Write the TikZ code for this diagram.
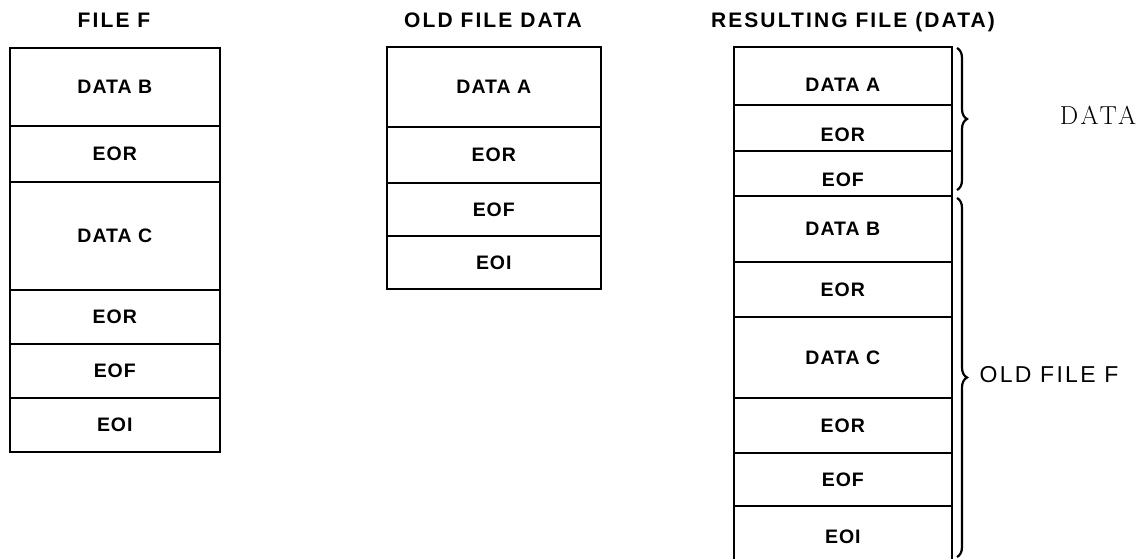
\documentclass[tikz,border=0pt]{standalone}
\usepackage{fontspec}
\usetikzlibrary{decorations.pathreplacing}
\newfontfamily\cellfam[LetterSpace=5]{Liberation Sans}
\newfontfamily\titlefam[LetterSpace=10]{Liberation Sans}
\newfontfamily\labelfam[LetterSpace=10]{Liberation Sans}
\newfontfamily\serifdata[LetterSpace=12]{Latin Modern Roman}
\tikzset{
  cell/.style={draw, line width=1.6pt, rectangle, anchor=north west, inner sep=0pt,
    font=\cellfam\bfseries\fontsize{19.5}{21}\selectfont},
  cellL/.style={cell, minimum width=210pt},
  cellM/.style={cell, minimum width=214pt},
  cellR/.style={cell, minimum width=218pt},
  ctext/.style={inner sep=0pt, font=\cellfam\bfseries\fontsize{19.5}{21}\selectfont},
  title/.style={inner sep=0pt, anchor=base, font=\titlefam\bfseries\fontsize{21}{23}\selectfont},
  bracedec/.style={decorate, decoration={brace, amplitude=10pt}, line width=2.2pt},
}
\begin{document}
\begin{tikzpicture}[x=1pt, y=-1pt]
\clip (0,0) rectangle (1146,559);
\fill[white] (0,0) rectangle (1146,559);
% titles
\node[title] (t1) at (114,28) {FILE F};
\node[title] (t2) at (493,28) {OLD FILE DATA};
\node[title] (t3) at (853,28) {RESULTING FILE (DATA)};
% left column: FILE F
\node[cellL, minimum height=78pt]  (l1) at (9,47)  {DATA B};
\node[cellL, minimum height=56pt]  (l2) at (9,125) {EOR};
\node[cellL, minimum height=108pt] (l3) at (9,181) {DATA C};
\node[cellL, minimum height=54pt]  (l4) at (9,289) {EOR};
\node[cellL, minimum height=54pt]  (l5) at (9,343) {EOF};
\node[cellL, minimum height=54pt]  (l6) at (9,397) {EOI};
% middle column: OLD FILE DATA
\node[cellM, minimum height=80pt] (m1) at (386,46)  {DATA A};
\node[cellM, minimum height=56pt] (m2) at (386,126) {EOR};
\node[cellM, minimum height=53pt] (m3) at (386,182) {EOF};
\node[cellM, minimum height=53pt] (m4) at (386,235) {EOI};
% right column: RESULTING FILE (DATA)
\node[cellR, minimum height=58pt] (r1) at (733,46)  {};
\node[cellR, minimum height=46pt] (r2) at (733,104) {};
\node[cellR, minimum height=45pt] (r3) at (733,150) {};
\node[ctext] (r1t) at ([yshift=-9pt]r1.center) {DATA A};
\node[ctext] (r2t) at ([yshift=-7pt]r2.center) {EOR};
\node[ctext] (r3t) at ([yshift=-6pt]r3.center) {EOF};
\node[cellR, minimum height=66pt] (r4) at (733,195) {DATA B};
\node[cellR, minimum height=55pt] (r5) at (733,261) {EOR};
\node[cellR, minimum height=81pt] (r6) at (733,316) {DATA C};
\node[cellR, minimum height=55pt] (r7) at (733,397) {EOR};
\node[cellR, minimum height=53pt] (r8) at (733,452) {EOF};
\node[cellR, minimum height=62pt] (r9) at (733,505) {EOI};
% braces
\coordinate (b1s) at (957,48);
\coordinate (b1e) at (957,190);
\coordinate (b2s) at (957,198);
\coordinate (b2e) at (957,557);
\draw[bracedec] (b1s) -- (b1e);
\draw[bracedec] (b2s) -- (b2e);
\node[inner sep=0pt, font=\serifdata\fontsize{26}{28}\selectfont] (dlab) at (1098,115) {DATA};
\node[inner sep=0pt, font=\labelfam\fontsize{23}{25}\selectfont] (olab) at (1049,375) {OLD FILE F};
\end{tikzpicture}
\end{document}
